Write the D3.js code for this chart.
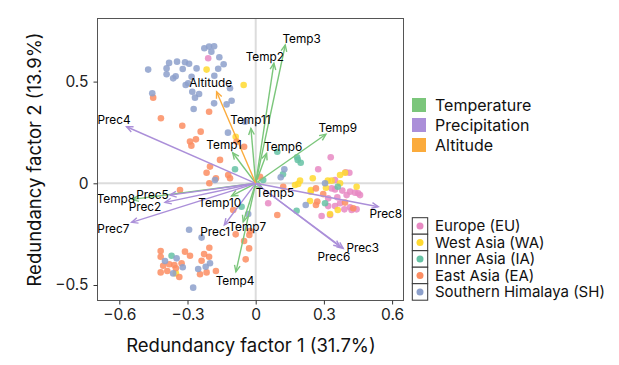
<!DOCTYPE html>
<html><head><meta charset="utf-8">
<script src="https://cdn.jsdelivr.net/npm/d3@7"></script>
<style>body{margin:0;background:#fff}svg{display:block;font-family:Inter,"Noto Sans",sans-serif}</style>
</head><body><svg id="c" width="619" height="365"></svg>
<script>
// ---- data ----
const xTicks = [-0.6, -0.3, 0, 0.3, 0.6];
const yTicks = [-0.5, 0, 0.5];
const xTitle = "Redundancy factor 1 (31.7%)";
const yTitle = "Redundancy factor 2 (13.9%)";

const regionNames = ["Europe (EU)", "West Asia (WA)", "Inner Asia (IA)", "East Asia (EA)", "Southern Himalaya (SH)"];
const regionCodes = ["EU", "WA", "IA", "EA", "SH"];
const regionColors = ["#e78ac3", "#ffd92f", "#66c2a5", "#fc8d62", "#8da0cb"];

const varGroups = ["Temperature", "Precipitation", "Altitude"];
const varColors = ["#7bc67b", "#ab8fd9", "#fbab3c"];

// sample scores [x, y] per region
const ptsEU = [[-0.209,0.615],[0.330,0.128],[0.275,0.069],[0.396,0.054],[0.412,0.052],[0.349,0.016],[0.349,-0.030],[0.334,-0.025],[0.381,-0.036],[0.415,-0.041],[0.437,-0.046],[0.400,-0.058],[0.359,-0.069],[0.319,-0.074],[0.319,-0.112],[0.349,-0.112],[0.371,-0.098],[0.415,-0.118],[0.444,-0.128],[0.390,-0.128],[0.055,-0.098],[0.290,-0.161],[0.327,-0.156],[0.451,-0.049],[0.459,-0.058],[0.422,-0.131]];
const ptsWA = [[-0.216,0.559],[-0.053,0.483],[-0.088,0.229],[-0.351,-0.443],[0.371,0.041],[0.393,0.052],[0.195,0.013],[0.187,-0.003],[0.317,0.013],[0.334,0.013],[0.371,0.000],[0.444,-0.017],[0.309,-0.022],[0.243,-0.033],[0.173,-0.008],[0.239,-0.087],[0.361,-0.131],[0.327,-0.151],[0.251,0.025],[0.242,-0.041]];
const ptsIA = [[-0.091,0.069],[-0.062,-0.115],[-0.370,-0.356],[0.095,0.155],[0.185,0.115],[0.198,0.101],[0.182,0.128],[0.120,0.044],[0.361,-0.017],[0.305,-0.098],[0.180,-0.135],[0.033,0.016]];
const ptsEA = [[-0.451,0.421],[-0.205,0.352],[-0.417,0.320],[-0.323,0.283],[-0.242,0.254],[-0.263,0.216],[-0.289,0.205],[-0.283,0.185],[-0.084,0.205],[-0.051,0.180],[-0.157,0.115],[-0.201,0.082],[-0.216,0.052],[-0.121,0.041],[-0.175,0.025],[-0.204,0.000],[-0.333,-0.033],[-0.113,0.025],[-0.099,-0.131],[-0.088,-0.251],[-0.028,-0.254],[-0.025,-0.235],[-0.051,-0.284],[-0.029,-0.320],[-0.044,-0.374],[-0.418,-0.333],[-0.418,-0.361],[-0.407,-0.405],[-0.380,-0.398],[-0.358,-0.402],[-0.326,-0.393],[-0.351,-0.418],[-0.418,-0.438],[-0.389,-0.431],[-0.336,-0.461],[-0.311,-0.336],[-0.289,-0.356],[-0.227,-0.348],[-0.204,-0.317],[-0.238,-0.381],[-0.205,-0.361],[-0.245,-0.447],[-0.216,-0.438],[-0.175,-0.431],[0.019,0.032],[0.121,-0.017],[0.265,-0.025],[0.297,-0.053],[0.271,-0.090],[0.265,-0.107],[0.393,-0.095],[0.429,-0.123],[0.095,-0.156]];
const ptsSH = [[-0.226,0.664],[-0.205,0.672],[-0.183,0.674],[-0.195,0.647],[-0.160,0.620],[-0.473,0.559],[-0.381,0.592],[-0.346,0.598],[-0.311,0.595],[-0.293,0.588],[-0.392,0.565],[-0.321,0.562],[-0.260,0.565],[-0.141,0.585],[-0.165,0.563],[-0.392,0.536],[-0.352,0.526],[-0.363,0.516],[-0.282,0.524],[-0.182,0.529],[-0.308,0.483],[-0.297,0.492],[-0.113,0.467],[-0.455,0.443],[-0.279,0.450],[-0.249,0.439],[-0.267,0.421],[-0.183,0.393],[-0.128,0.388],[-0.106,0.406],[-0.273,0.365],[-0.047,0.303],[-0.122,0.249],[-0.179,0.016],[-0.293,-0.228],[-0.238,-0.267],[-0.348,-0.369],[-0.399,-0.382],[-0.321,-0.413],[-0.363,-0.443],[-0.201,-0.393],[-0.220,-0.410],[-0.253,-0.421],[-0.275,-0.513],[-0.033,-0.151],[0.126,0.069],[0.110,0.030],[0.305,0.000],[0.220,-0.107]];
const regionPoints = [ptsEU, ptsWA, ptsIA, ptsEA, ptsSH];

// environmental vectors
const vecNames = ["Temp1","Temp2","Temp3","Temp4","Temp5","Temp6","Temp7","Temp8","Temp9","Temp10","Temp11","Prec1","Prec2","Prec3","Prec4","Prec5","Prec6","Prec7","Prec8","Altitude"];
const vecGroup = [0,0,0,0,0,0,0,0,0,0,0,1,1,1,1,1,1,1,1,2];
const vecX = [-0.101,0.080,0.130,-0.087,0.028,0.048,-0.055,-0.543,0.309,-0.106,-0.021,-0.138,-0.399,0.385,-0.568,-0.377,0.371,-0.546,0.539,-0.172];
const vecY = [0.150,0.590,0.680,-0.435,-0.023,0.147,-0.189,-0.079,0.241,-0.062,0.270,-0.205,-0.094,-0.320,0.278,-0.058,-0.312,-0.192,-0.115,0.450];
const labX = [-0.139,0.040,0.202,-0.091,0.085,0.121,-0.037,-0.615,0.361,-0.158,-0.023,-0.178,-0.487,0.471,-0.623,-0.454,0.344,-0.626,0.572,-0.198];
const labY = [0.188,0.622,0.709,-0.480,-0.046,0.177,-0.213,-0.079,0.270,-0.095,0.311,-0.238,-0.115,-0.320,0.311,-0.058,-0.361,-0.225,-0.152,0.495];

// ---- drawing ----
const svg = d3.select("#c");
const L = 97.5, R = 403.5, T = 18.5, B = 300.5;
const x = d3.scaleLinear().domain([-0.6, 0.6]).range([119.3, 392.1]);
const y = d3.scaleLinear().domain([-0.5, 0.5]).range([285, 81.6]);

// zero lines
svg.append("line").attr("x1", L).attr("x2", R).attr("y1", y(0)).attr("y2", y(0)).attr("stroke", "#dcdcdc").attr("stroke-width", 2);
svg.append("line").attr("x1", x(0)).attr("x2", x(0)).attr("y1", T).attr("y2", B).attr("stroke", "#dcdcdc").attr("stroke-width", 2);

// points
regionPoints.forEach((pts, i) => {
  svg.append("g").selectAll("circle").data(pts).join("circle")
    .attr("cx", d => x(d[0])).attr("cy", d => y(d[1])).attr("r", 3.3)
    .attr("fill", regionColors[i]).attr("fill-opacity", 0.85);
});

// arrows
const ox = x(0), oy = y(0);
const ag = svg.append("g");
vecNames.forEach((n, i) => {
  const col = varColors[vecGroup[i]];
  const tx = x(vecX[i]), ty = y(vecY[i]);
  ag.append("line").attr("x1", ox).attr("y1", oy).attr("x2", tx).attr("y2", ty)
    .attr("stroke", col).attr("stroke-width", 1.4);
  const a = Math.atan2(ty - oy, tx - ox), len = 7, sp = 0.42;
  const p1 = [tx - len * Math.cos(a - sp), ty - len * Math.sin(a - sp)];
  const p2 = [tx - len * Math.cos(a + sp), ty - len * Math.sin(a + sp)];
  ag.append("path").attr("d", `M${p1}L${tx},${ty}L${p2}`).attr("fill", "none")
    .attr("stroke", col).attr("stroke-width", 1.4).attr("stroke-linejoin", "miter");
});
// labels
svg.append("g").selectAll("text").data(vecNames).join("text")
  .attr("x", (d, i) => x(labX[i])).attr("y", (d, i) => y(labY[i]))
  .attr("text-anchor", "middle").attr("dominant-baseline", "central")
  .attr("font-size", 11.8).attr("fill", "#000").text(d => d);

// panel border
svg.append("rect").attr("x", L).attr("y", T).attr("width", R - L).attr("height", B - T)
  .attr("fill", "none").attr("stroke", "#555").attr("stroke-width", 1);

// axes
const fmt = d => d === 0 ? "0" : d3.format(".1f")(d).replace("-", "\u2212");
const xa = svg.append("g").attr("transform", `translate(0,${B})`)
  .call(d3.axisBottom(x).tickValues(xTicks).tickSize(4).tickPadding(4).tickFormat(fmt));
const ya = svg.append("g").attr("transform", `translate(${L},0)`)
  .call(d3.axisLeft(y).tickValues(yTicks).tickSize(4).tickPadding(5).tickFormat(fmt));
[xa, ya].forEach(g => {
  g.select(".domain").remove();
  g.selectAll(".tick line").attr("stroke", "#333");
  g.selectAll(".tick text").attr("font-size", 15.5).attr("fill", "#222").attr("font-family", "Inter");
});

svg.append("text").attr("x", 251).attr("y", 345).attr("text-anchor", "middle")
  .attr("dominant-baseline", "central").attr("font-size", 18.5).attr("fill", "#111").text(xTitle);
svg.append("text").attr("transform", `translate(34,${(T + B) / 2}) rotate(-90)`).attr("text-anchor", "middle")
  .attr("dominant-baseline", "central").attr("font-size", 18.5).attr("fill", "#111").text(yTitle);

// legend 1: variable groups
const lg1 = svg.append("g");
varGroups.forEach((g, i) => {
  const cy = 105 + i * 20;
  lg1.append("rect").attr("x", 412).attr("y", cy - 7).attr("width", 14).attr("height", 14).attr("fill", varColors[i]);
  lg1.append("text").attr("x", 435).attr("y", cy).attr("dominant-baseline", "central")
    .attr("font-size", 16).attr("fill", "#111").text(g);
});

// legend 2: regions
const lg2 = svg.append("g");
regionNames.forEach((n, i) => {
  const top = 217.7 + i * 16.5;
  lg2.append("rect").attr("x", 412.3).attr("y", top).attr("width", 15.4).attr("height", 16.5)
    .attr("fill", "#fff").attr("stroke", "#333").attr("stroke-width", 1);
  lg2.append("circle").attr("cx", 420).attr("cy", top + 8.25).attr("r", 3.5).attr("fill", regionColors[i]);
  lg2.append("text").attr("x", 435).attr("y", top + 8.25).attr("dominant-baseline", "central")
    .attr("font-size", 15).attr("fill", "#111").text(n);
});
</script></body></html>
